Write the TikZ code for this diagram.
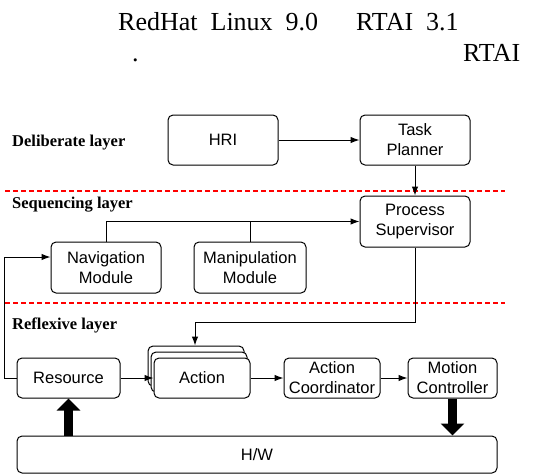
\documentclass[tikz,border=0pt]{standalone}
\usepackage{fontspec}
\setmainfont{Liberation Serif}
\setsansfont{Liberation Sans}
\usetikzlibrary{positioning}
\usetikzlibrary{arrows}
\usetikzlibrary{arrows.meta}

\begin{document}
\begin{tikzpicture}[
x=1pt, y=-1pt,
box/.style ={rectangle, draw, rounded corners=5pt, line width=1pt, fill=white,
  font=\sffamily\fontsize{16.5}{20}\selectfont, align=center, inner sep=1pt},
layer/.style ={font=\bfseries\fontsize{16.5}{19}\selectfont, anchor=base west, inner sep=0pt},
title/.style ={font=\fontsize{26}{30}\selectfont, anchor=base west, inner sep=0pt},
line/.style ={draw, line width=1pt, -{Latex[length=9pt,width=6.5pt]}},
bigarrow/.style ={draw, line width=9pt, -{Triangle[width=23pt,length=12pt]}},
sep/.style ={color=red, line width=1.2pt, dash pattern=on 5pt off 3pt}
]
\useasboundingbox (0,0) rectangle (536,475);

% text above the picture
\node[title] (t1) at (118,30) {RedHat\ \ Linux\ \ 9.0};
\node[title] (t2) at (356,30) {RTAI\ \ 3.1};
\node[title] (t3) at (132,61) {.};
\node[title] (t4) at (463,61) {RTAI};

% layers
\node[layer] (lay1) at (12,146) {Deliberate layer};
\node[layer] (lay2) at (12,208) {Sequencing layer};
\node[layer] (lay3) at (12,329) {Reflexive layer};
\draw[sep] (5,191) -- (505,191);
\draw[sep] (5,303) -- (505,303);

\node[box, minimum width=110pt, minimum height=50pt] (hri) at (223,140) {HRI};
\node[box, minimum width=110pt, minimum height=50pt] (planner) at (415,140) {Task\\Planner};
\node[box, minimum width=110pt, minimum height=51pt] (supervisor) at (415,221.5) {Process\\Supervisor};
\node[box, minimum width=110pt, minimum height=51pt] (nav) at (106,267.5) {Navigation\\Module};
\node[box, minimum width=112pt, minimum height=51pt] (manip) at (250,267.5) {Manipulation\\Module};

\node[box, minimum width=103pt, minimum height=40pt] (resource) at (68.5,378) {Resource};
\node[box, minimum width=96pt, minimum height=40pt] (act1) at (196,366) {};
\node[box, minimum width=96pt, minimum height=40pt] (act2) at (199,372) {};
\node[box, minimum width=96pt, minimum height=40pt] (action) at (202,378) {Action};
\node[box, minimum width=96pt, minimum height=40pt] (coord) at (332,378) {Action\\Coordinator};
\node[box, minimum width=89pt, minimum height=40pt] (motion) at (452.5,378) {Motion\\Controller};
\node[box, minimum width=480pt, minimum height=37pt] (hw) at (257,454.5) {H/W};

\coordinate (loop) at (4,257);
\coordinate (turn) at (195,322);

\draw[line] (hri) -- (planner);
\draw[line] (planner) -- (supervisor);
\draw[line] (nav.north) |- (supervisor.west);
\draw[line width=1pt] (manip.north) -- (manip.north |- supervisor.west);
\draw[line] (resource.west) -| (loop) -- (nav.west |- loop);
\draw[line] (supervisor.south) |- (turn) -- (turn |- act1.north);
\draw[line] (resource) -- (action);
\draw[line] (action) -- (coord);
\draw[line] (coord) -- (motion);
\draw[bigarrow] (resource.south |- hw.north) -- (resource.south);
\draw[bigarrow] (motion.south) -- (motion.south |- hw.north);
\end{tikzpicture}
\end{document}
